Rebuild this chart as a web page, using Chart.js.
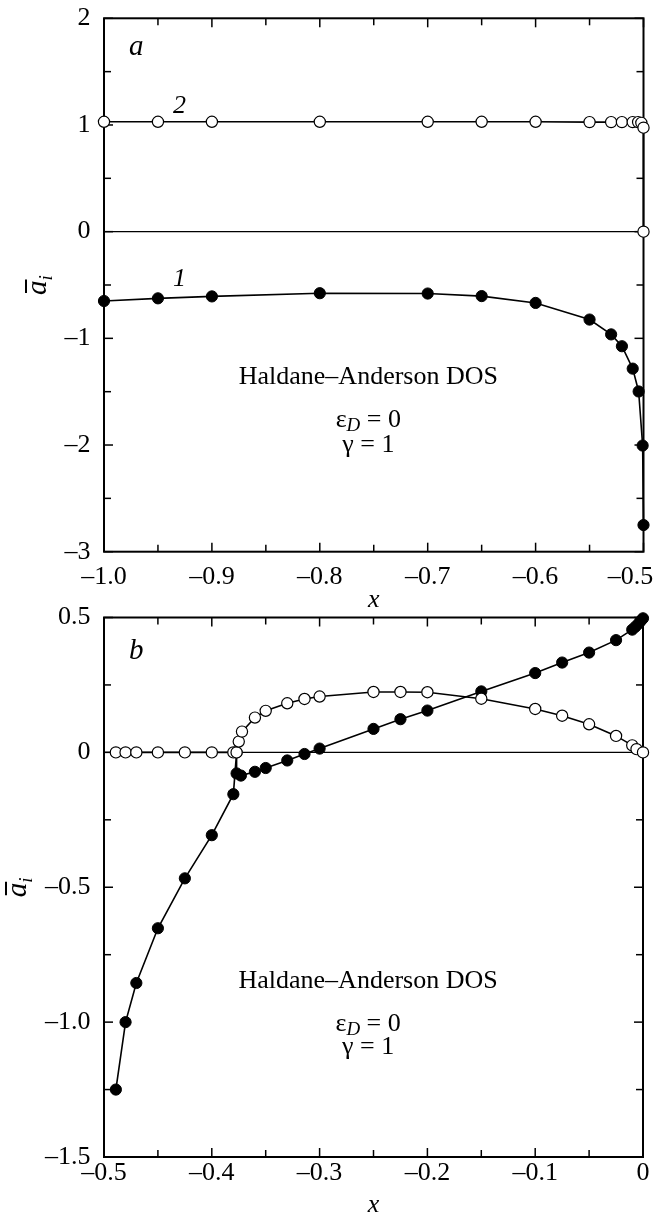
<!DOCTYPE html>
<html><head><meta charset="utf-8">
<script src="https://cdn.jsdelivr.net/npm/chart.js@4/dist/chart.umd.min.js"></script>
<style>
html,body{margin:0;padding:0;background:#fff;}
#wa{position:absolute;left:0;top:0;width:653px;height:615px;}
#wb{position:absolute;left:0;top:600px;width:653px;height:613px;}
</style></head><body>
<div id="wa"><canvas id="ca"></canvas></div>
<div id="wb"><canvas id="cb"></canvas></div>
<script>
const FONT = '"Liberation Serif","Times New Roman",serif';

// ---------- Panel a data ----------
const aX1 = [-1.0,-0.95,-0.9,-0.8,-0.7,-0.65,-0.6,-0.55,-0.53,-0.52,-0.51,-0.5045,-0.5008,-0.5];
const aY1 = [-0.65,-0.625,-0.607,-0.577,-0.58,-0.604,-0.668,-0.824,-0.963,-1.074,-1.284,-1.498,-2.005,-2.75];
const aX2 = [-1.0,-0.95,-0.9,-0.8,-0.7,-0.65,-0.6,-0.55,-0.53,-0.52,-0.51,-0.505,-0.502,-0.5,-0.5];
const aY2 = [1.03,1.03,1.03,1.03,1.03,1.03,1.03,1.027,1.027,1.027,1.027,1.027,1.02,0.975,0];
const aXTicks = [-1.0,-0.9,-0.8,-0.7,-0.6,-0.5];
const aXTickLabels = ['\u20131.0','\u20130.9','\u20130.8','\u20130.7','\u20130.6','\u20130.5\u2003'];
const aXMinor = [-0.95,-0.85,-0.75,-0.65,-0.55];
const aYTicks = [2,1,0,-1,-2,-3];
const aYTickLabels = ['2','1','0','\u20131','\u20132','\u20133'];
const aYMinor = [1.5,0.5,-0.5,-1.5,-2.5];

// ---------- Panel b data ----------
const bX1 = [-0.489,-0.48,-0.47,-0.45,-0.425,-0.4,-0.38,-0.377,-0.377,-0.373,-0.36,-0.35,-0.33,-0.314,-0.3,-0.25,-0.225,-0.2,-0.15,-0.1,-0.075,-0.05,-0.025,-0.01,-0.007,-0.004,-0.002,0];
const bY1 = [-1.25,-1.0,-0.855,-0.652,-0.467,-0.307,-0.155,0,-0.078,-0.086,-0.072,-0.058,-0.03,-0.006,0.014,0.087,0.123,0.155,0.226,0.294,0.333,0.37,0.416,0.455,0.466,0.478,0.488,0.497];
const bX2 = [-0.489,-0.48,-0.47,-0.45,-0.425,-0.4,-0.38,-0.377,-0.375,-0.372,-0.36,-0.35,-0.33,-0.314,-0.3,-0.25,-0.225,-0.2,-0.15,-0.1,-0.075,-0.05,-0.025,-0.01,-0.006,0];
const bY2 = [0,0,0,0,0,0,0,0,0.04,0.077,0.129,0.154,0.182,0.198,0.207,0.224,0.224,0.223,0.199,0.161,0.136,0.104,0.061,0.026,0.012,0];
const bXTicks = [-0.5,-0.4,-0.3,-0.2,-0.1,0];
const bXTickLabels = ['\u20130.5','\u20130.4','\u20130.3','\u20130.2','\u20130.1','0'];
const bXMinor = [-0.45,-0.35,-0.25,-0.15,-0.05];
const bYTicks = [0.5,0,-0.5,-1.0,-1.5];
const bYTickLabels = ['0.5','0','\u20130.5','\u20131.0','\u20131.5'];
const bYMinor = [0.25,-0.25,-0.75,-1.25];

function pts(xs, ys){ return xs.map((x,i)=>({x:x, y:ys[i]})); }

function labelFor(ticksArr, labelsArr){
  return function(v){
    for (let i=0;i<ticksArr.length;i++) if (Math.abs(ticksArr[i]-v)<1e-9) return labelsArr[i];
    return '';
  };
}

function drawYTitle(ctx, cx, cy){
  ctx.save();
  ctx.translate(cx, cy);
  ctx.rotate(-Math.PI/2);
  ctx.fillStyle='#000'; ctx.strokeStyle='#000';
  ctx.textBaseline='alphabetic'; ctx.textAlign='left';
  ctx.font='italic 29px '+FONT;
  const wa = ctx.measureText('a').width;
  ctx.font='italic 19px '+FONT;
  const wi = ctx.measureText('i').width;
  const x0 = -(wa+wi)/2;
  ctx.font='italic 29px '+FONT;
  ctx.fillText('a', x0, 0);
  ctx.font='italic 19px '+FONT;
  ctx.fillText('i', x0+wa, 6);
  ctx.lineWidth=2;
  ctx.beginPath(); ctx.moveTo(x0+2, -20); ctx.lineTo(x0+wa+1, -20); ctx.stroke();
  ctx.restore();
}

function drawInfo(ctx, cx, y1, y2, y3){
  ctx.save();
  ctx.fillStyle='#000';
  ctx.textBaseline='middle';
  ctx.textAlign='center';
  ctx.font='26px '+FONT;
  ctx.fillText('Haldane\u2013Anderson DOS', cx, y1);
  ctx.textAlign='left';
  ctx.font='26px '+FONT;
  const we = ctx.measureText('\u03b5').width;
  ctx.font='italic 19px '+FONT;
  const wd = ctx.measureText('D').width;
  ctx.font='26px '+FONT;
  const wr = ctx.measureText(' = 0').width;
  let x = cx - (we+wd+wr)/2;
  ctx.fillText('\u03b5', x, y2);
  ctx.font='italic 19px '+FONT;
  ctx.fillText('D', x+we, y2+6);
  ctx.font='26px '+FONT;
  ctx.fillText(' = 0', x+we+wd, y2);
  ctx.textAlign='center';
  ctx.fillText('\u03b3 = 1', cx, y3);
  ctx.restore();
}

function makePlugin(cfg){
  return {
    id:'panel',
    beforeDatasetsDraw(chart){
      const ctx = chart.ctx;
      const {left,right,top,bottom} = chart.chartArea;
      const sx = chart.scales.x, sy = chart.scales.y;
      ctx.save();
      ctx.strokeStyle='#000';
      ctx.lineWidth=1.3;
      const y0 = sy.getPixelForValue(0);
      ctx.beginPath(); ctx.moveTo(left,y0); ctx.lineTo(right,y0); ctx.stroke();
      ctx.lineWidth=1.5;
      const tk = (vals, len, horiz) => {
        vals.forEach(v=>{
          if (horiz){
            const p = sx.getPixelForValue(v);
            ctx.beginPath(); ctx.moveTo(p,bottom); ctx.lineTo(p,bottom-len); ctx.stroke();
            ctx.beginPath(); ctx.moveTo(p,top); ctx.lineTo(p,top+len); ctx.stroke();
          } else {
            const p = sy.getPixelForValue(v);
            ctx.beginPath(); ctx.moveTo(left,p); ctx.lineTo(left+len,p); ctx.stroke();
            ctx.beginPath(); ctx.moveTo(right,p); ctx.lineTo(right-len,p); ctx.stroke();
          }
        });
      };
      tk(cfg.xTicks, 9, true); tk(cfg.xMinor, 7, true);
      tk(cfg.yTicks, 9, false); tk(cfg.yMinor, 7, false);
      ctx.lineWidth=2;
      ctx.strokeRect(left,top,right-left,bottom-top);
      ctx.restore();
    },
    afterDraw(chart){
      const ctx = chart.ctx;
      const {left,right,top,bottom} = chart.chartArea;
      const sx = chart.scales.x, sy = chart.scales.y;
      ctx.save();
      ctx.fillStyle='#000';
      ctx.font='italic 26px '+FONT;
      ctx.textAlign='center'; ctx.textBaseline='middle';
      ctx.fillText('x', (left+right)/2, bottom + cfg.xTitleOffset);
      ctx.font='italic 29px '+FONT;
      ctx.fillText(cfg.letter, sx.getPixelForValue(cfg.letterPos[0]), sy.getPixelForValue(cfg.letterPos[1]));
      ctx.font='italic 26px '+FONT;
      (cfg.curveLabels||[]).forEach(c=>{
        ctx.fillText(c.t, sx.getPixelForValue(c.x), sy.getPixelForValue(c.y));
      });
      ctx.restore();
      drawYTitle(ctx, cfg.yTitleX, (top+bottom)/2);
      drawInfo(ctx, sx.getPixelForValue(cfg.info[0]), sy.getPixelForValue(cfg.info[1]), sy.getPixelForValue(cfg.info[2]), sy.getPixelForValue(cfg.info[3]));
    }
  };
}

function makeChart(el, p){
  const dsOpen = {data: pts(p.xo, p.yo), borderColor:'#000', borderWidth:1.6, pointRadius:5.6, pointBackgroundColor:'#fff', pointBorderColor:'#000', pointBorderWidth:1.2, clip:false, tension:0, fill:false};
  const dsFill = {data: pts(p.xf, p.yf), borderColor:'#000', borderWidth:1.6, pointRadius:5.6, pointBackgroundColor:'#000', pointBorderColor:'#000', pointBorderWidth:1, clip:false, tension:0, fill:false};
  return new Chart(el, {
    type:'line',
    data:{datasets:[dsOpen, dsFill]},
    options:{
      responsive:true, maintainAspectRatio:false, animation:false,
      layout:{padding:{top:p.padTop, right:p.padRight, left:0, bottom:0}},
      plugins:{legend:{display:false}, tooltip:{enabled:false}},
      scales:{
        x:{type:'linear', min:p.xmin, max:p.xmax,
           afterBuildTicks: s=>{ s.ticks = p.xTicks.map(v=>({value:v})); },
           ticks:{callback: labelFor(p.xTicks, p.xLabels), font:{family:FONT,size:26}, color:'#000', padding:p.xPad, autoSkip:false, maxRotation:0, minRotation:0},
           grid:{display:false, drawTicks:false}, border:{display:false},
           afterFit: s=>{ s.height=p.xH; s.paddingLeft=0; s.paddingRight=0; }},
        y:{type:'linear', min:p.ymin, max:p.ymax,
           afterBuildTicks: s=>{ s.ticks = p.yTicks.map(v=>({value:v})); },
           ticks:{callback: labelFor(p.yTicks, p.yLabels), font:{family:FONT,size:26}, color:'#000', padding:13.5, autoSkip:false},
           grid:{display:false, drawTicks:false}, border:{display:false},
           afterFit: s=>{ s.width=104; s.paddingTop=0; s.paddingBottom=0; }}
      }
    },
    plugins:[makePlugin(p)]
  });
}

makeChart(document.getElementById('ca'), {
  xo:aX2, yo:aY2, xf:aX1, yf:aY1,
  xmin:-1.0, xmax:-0.5, ymin:-3, ymax:2,
  xTicks:aXTicks, xLabels:aXTickLabels, xMinor:aXMinor,
  yTicks:aYTicks, yLabels:aYTickLabels, yMinor:aYMinor,
  padTop:18.3, padRight:9.5, xH:63.3, xPad:10, xTitleOffset:48, yTitleX:46,
  letter:'a', letterPos:[-0.97,1.73],
  curveLabels:[{t:'2',x:-0.93,y:1.18},{t:'1',x:-0.93,y:-0.45}],
  info:[-0.755,-1.36,-1.77,-2.0]
});

makeChart(document.getElementById('cb'), {
  xo:bX2, yo:bY2, xf:bX1, yf:bY1,
  xmin:-0.5, xmax:0, ymin:-1.5, ymax:0.5,
  xTicks:bXTicks, xLabels:bXTickLabels, xMinor:bXMinor,
  yTicks:bYTicks, yLabels:bYTickLabels, yMinor:bYMinor,
  padTop:17.5, padRight:10, xH:56, xPad:1, xTitleOffset:48, yTitleX:26,
  letter:'b', letterPos:[-0.47,0.376],
  curveLabels:[],
  info:[-0.255,-0.847,-1.006,-1.092]
});
</script>
</body></html>
